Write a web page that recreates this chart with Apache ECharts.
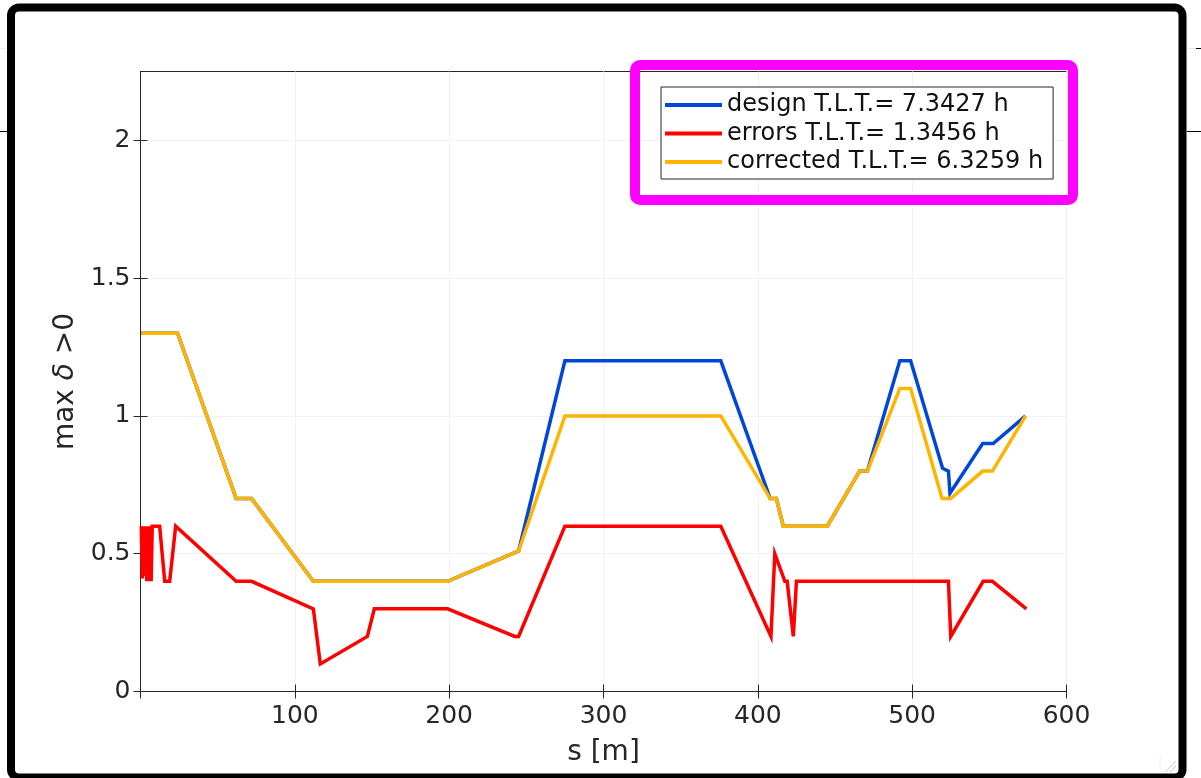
<!DOCTYPE html>
<html>
<head>
<meta charset="utf-8">
<script src="https://cdn.jsdelivr.net/npm/echarts@6/dist/echarts.min.js"></script>
<style>
html,body{margin:0;padding:0;background:#fff;}
#chart{width:1201px;height:778px;}
</style>
</head>
<body>
<div id="chart"></div>
<script>
// ---- data ----
const seriesNames = ['design T.L.T.= 7.3427 h', 'errors T.L.T.= 1.3456 h', 'corrected T.L.T.= 6.3259 h'];

const designS = [0.5, 24, 62, 72, 112, 199, 241, 245, 275, 376, 408, 412, 416.5, 445, 466, 471, 492, 499, 519.7, 523.5, 524.5, 545.7, 552.5, 573.5];
const designV = [1.3, 1.3, 0.7, 0.7, 0.4, 0.4, 0.5, 0.51, 1.2, 1.2, 0.7, 0.7, 0.6, 0.6, 0.8, 0.8, 1.2, 1.2, 0.81, 0.8, 0.72, 0.9, 0.9, 1.0];

const errorsS = [0.5, 1.2, 2, 2.7, 3.4, 4.1, 4.8, 5.5, 6.2, 6.9, 7.6, 8.2, 12.4, 15.7, 18.9, 22.8, 62, 72, 112, 116.5, 147, 151.5, 199, 242.5, 245, 275, 376, 408.5, 411, 417.5, 419, 423, 425, 523.5, 525, 546, 552, 574];
const errorsV = [0.6, 0.41, 0.6, 0.42, 0.6, 0.4, 0.6, 0.4, 0.6, 0.4, 0.6, 0.6, 0.6, 0.4, 0.4, 0.6, 0.4, 0.4, 0.3, 0.1, 0.2, 0.3, 0.3, 0.2, 0.2, 0.6, 0.6, 0.2, 0.5, 0.4, 0.4, 0.2, 0.4, 0.4, 0.2, 0.4, 0.4, 0.3];

const correctedS = [0.5, 24, 62, 72, 112, 199, 241, 245, 275, 376, 408, 412, 416.5, 445, 466, 471, 492, 499, 519.4, 525, 545.7, 552, 573.5];
const correctedV = [1.3, 1.3, 0.7, 0.7, 0.4, 0.4, 0.5, 0.51, 1.0, 1.0, 0.7, 0.7, 0.6, 0.6, 0.8, 0.8, 1.1, 1.1, 0.7, 0.7, 0.8, 0.8, 1.0];

const xTicks = [100, 200, 300, 400, 500, 600];
const yTicks = [0, 0.5, 1, 1.5, 2];

const colors = ['#0047d9', '#ff0000', '#ffb400'];
// ------------------------------------------------

function pairs(xs, ys) { return xs.map((x, i) => [x, ys[i]]); }

const FONT = 'DejaVu Sans';
const AX = '#262626';

const chart = echarts.init(document.getElementById('chart'), null, {renderer: 'canvas'});

const xBase = {type: 'value', min: 0, max: 600, interval: 100};
const yBase = {type: 'value', min: 0, max: 2.25, interval: 0.5};

const option = {
  animation: false,
  backgroundColor: '#fff',
  color: colors,
  grid: {
    left: 140.5, top: 71.5, right: 134.5, bottom: 86.5,
    show: true, borderColor: AX, borderWidth: 1, backgroundColor: 'transparent'
  },
  legend: {
    orient: 'vertical',
    left: 661, top: 87,
    padding: [6, 10, 5, 4],
    itemGap: 4.5,
    itemWidth: 57, itemHeight: 4,
    icon: 'rect',
    backgroundColor: '#fff',
    borderColor: AX, borderWidth: 1, borderRadius: 0,
    textStyle: {fontFamily: FONT, fontSize: 24, color: '#111', lineHeight: 24},
    data: seriesNames
  },
  xAxis: [
    Object.assign({}, xBase, {
      position: 'bottom',
      name: 's [m]', nameLocation: 'middle', nameGap: 47,
      nameTextStyle: {fontFamily: FONT, fontSize: 28, color: AX},
      axisLine: {show: true, lineStyle: {color: AX, width: 1}},
      axisTick: {show: true, inside: true, length: 7, lineStyle: {color: AX}},
      axisLabel: {
        fontFamily: FONT, fontSize: 25, color: AX, margin: 12,
        formatter: v => (xTicks.indexOf(v) >= 0 ? String(v) : '')
      },
      splitLine: {show: true, lineStyle: {color: '#f2f2f2', width: 1}}
    }),
    Object.assign({}, xBase, {
      position: 'top',
      axisLine: {show: true, lineStyle: {color: AX, width: 1}},
      axisTick: {show: true, inside: true, length: 7, lineStyle: {color: AX}},
      axisLabel: {show: false},
      splitLine: {show: false}
    })
  ],
  yAxis: [
    Object.assign({}, yBase, {
      position: 'left',
      name: 'max {i|δ} >0', nameLocation: 'middle', nameGap: 58, nameRotate: 90,
      nameTextStyle: {
        fontFamily: FONT, fontSize: 28, color: AX,
        rich: {i: {fontFamily: FONT, fontSize: 28, fontStyle: 'italic', color: AX}}
      },
      axisLine: {show: true, lineStyle: {color: AX, width: 1}},
      axisTick: {show: true, inside: true, length: 7, lineStyle: {color: AX}, customValues: yTicks},
      axisLabel: {
        fontFamily: FONT, fontSize: 25, color: AX, margin: 10, customValues: yTicks,
        formatter: v => String(v)
      },
      splitLine: {show: true, lineStyle: {color: '#f2f2f2', width: 1}}
    }),
    Object.assign({}, yBase, {
      position: 'right',
      axisLine: {show: true, lineStyle: {color: AX, width: 1}},
      axisTick: {show: true, inside: true, length: 7, lineStyle: {color: AX}, customValues: yTicks},
      axisLabel: {show: false},
      splitLine: {show: false}
    })
  ],
  series: [
    {name: seriesNames[0], type: 'line', data: pairs(designS, designV)},
    {name: seriesNames[1], type: 'line', data: pairs(errorsS, errorsV)},
    {name: seriesNames[2], type: 'line', data: pairs(correctedS, correctedV)}
  ].map((s, i) => Object.assign(s, {
    xAxisIndex: 0, yAxisIndex: 0,
    showSymbol: false, symbol: 'none',
    lineStyle: {color: colors[i], width: 3.5, join: 'miter'},
    itemStyle: {color: colors[i]},
    z: 2 + i
  })),
  graphic: [
    // outer black frame
    {type: 'rect', z: 100, silent: true,
     shape: {x: 11, y: 7.5, width: 1171.5, height: 770, r: 8},
     style: {fill: 'none', stroke: '#000', lineWidth: 8}},
    // magenta highlight around legend
    {type: 'rect', z: 100, silent: true,
     shape: {x: 635, y: 65, width: 438, height: 135, r: 5},
     style: {fill: 'none', stroke: '#ff00ff', lineWidth: 10}},
    // stray marks at the image edges
    {type: 'line', z: 100, silent: true, shape: {x1: 0, y1: 131.5, x2: 7, y2: 131.5}, style: {stroke: '#000', lineWidth: 1}},
    {type: 'line', z: 100, silent: true, shape: {x1: 1187, y1: 131.5, x2: 1201, y2: 131.5}, style: {stroke: '#000', lineWidth: 1}},
    {type: 'line', z: 100, silent: true, shape: {x1: 1196, y1: 48.5, x2: 1201, y2: 48.5}, style: {stroke: '#000', lineWidth: 1}},
    {type: 'line', z: 100, silent: true, shape: {x1: 1187, y1: 48.5, x2: 1196, y2: 48.5}, style: {stroke: '#e6e6e6', lineWidth: 1}},
    {type: 'line', z: 100, silent: true, shape: {x1: 0, y1: 48.5, x2: 7, y2: 48.5}, style: {stroke: '#eeeeee', lineWidth: 1}},
    // resize grip
    {type: 'line', z: 100, silent: true, shape: {x1: 1165, y1: 772, x2: 1176, y2: 761}, style: {stroke: '#cfcfcf', lineWidth: 1}},
    {type: 'line', z: 100, silent: true, shape: {x1: 1170, y1: 772, x2: 1176, y2: 766}, style: {stroke: '#cfcfcf', lineWidth: 1}},
    {type: 'line', z: 100, silent: true, shape: {x1: 1160, y1: 757, x2: 1160, y2: 772}, style: {stroke: '#f0f0f0', lineWidth: 1}}
  ]
};

chart.setOption(option);
</script>
</body>
</html>
